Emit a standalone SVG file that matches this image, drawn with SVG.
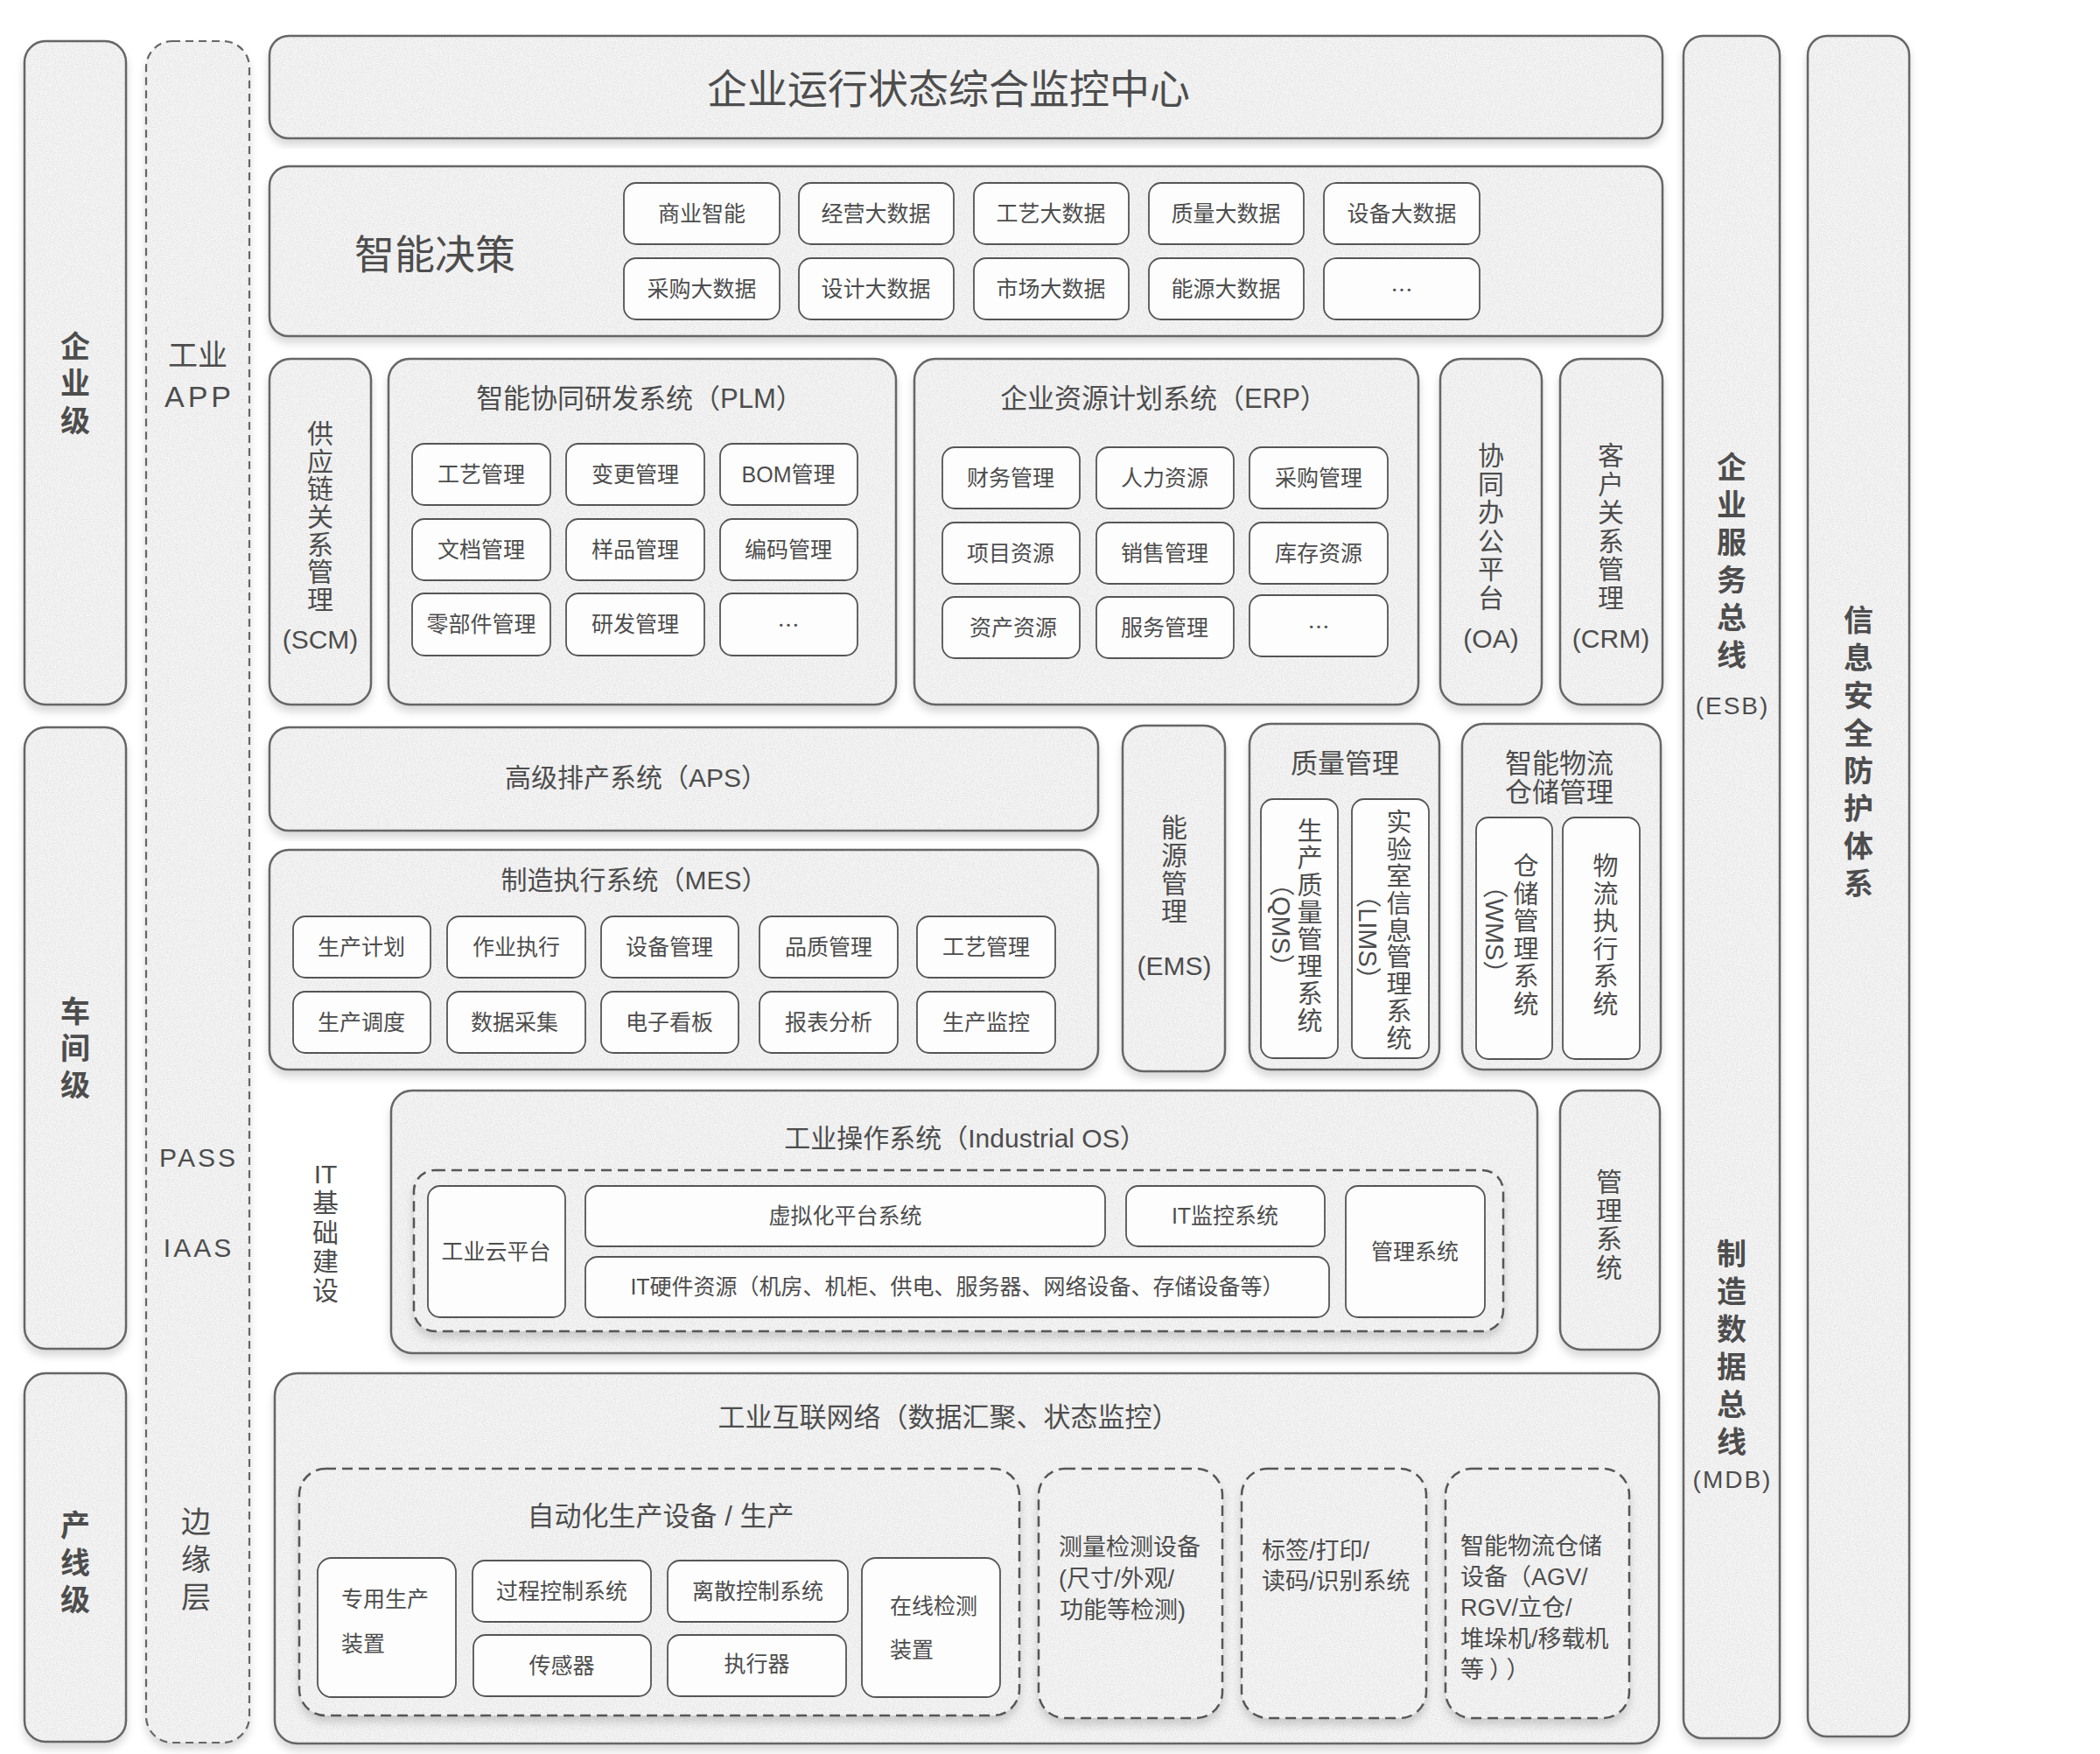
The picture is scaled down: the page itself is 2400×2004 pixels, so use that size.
<svg xmlns="http://www.w3.org/2000/svg" width="2400" height="2004" viewBox="0 0 2400 2004">
<defs>
<filter id="sh" x="-10%" y="-5%" width="120%" height="115%" color-interpolation-filters="sRGB">
<feGaussianBlur in="SourceAlpha" stdDeviation="5"/>
<feOffset dy="7" result="b"/>
<feFlood flood-color="#000" flood-opacity="0.15"/>
<feComposite in2="b" operator="in" result="s"/>
<feTurbulence type="fractalNoise" baseFrequency="0.9" numOctaves="2" seed="7" result="n"/>
<feColorMatrix in="n" type="matrix" values="0 0 0 0 0.4  0 0 0 0 0.4  0 0 0 0 0.4  0 0 0 0.28 -0.09" result="g"/>
<feComposite in="g" in2="SourceAlpha" operator="in" result="gc"/>
<feMerge><feMergeNode in="s"/><feMergeNode in="SourceGraphic"/><feMergeNode in="gc"/></feMerge>
</filter>
<style>
text,tspan{font-family:"Liberation Sans","Noto Sans CJK SC",sans-serif;fill:#4d4d4d;dominant-baseline:central}
.c{text-anchor:middle}
.box{fill:#f7f7f7;stroke:#666;stroke-width:2.5;filter:url(#sh)}
.dbox{fill:#f7f7f7;stroke:#555;stroke-width:2.5;stroke-dasharray:12 7;filter:url(#sh)}
.dcol{fill:#f7f7f7;stroke:#666;stroke-width:2.2;stroke-dasharray:9 6;filter:url(#sh)}
.sub{fill:#fdfdfd;stroke:#555;stroke-width:1.8}
.f46{font-size:46px}
.f34{font-size:34px}
.f31{font-size:31px}
.f30{font-size:30px}
.f29{font-size:29px}
.f27{font-size:27px}
.f25{font-size:25px}
.b{font-size:34px;font-weight:bold}
.lat{font-size:28px;letter-spacing:2px}
.dots{font-family:"Noto Sans CJK SC",sans-serif;font-size:25px}
</style>
</defs>
<rect width="2400" height="2004" fill="#fff"/>

<g id="connectors"/>

<g id="lvl-enterprise"><rect class="box" x="28" y="47" width="116" height="758" rx="24"/>
<text class="c b"><tspan x="86" y="396">企</tspan><tspan x="86" y="438">业</tspan><tspan x="86" y="481">级</tspan></text></g>
<g id="lvl-workshop"><rect class="box" x="28" y="831" width="116" height="710" rx="24"/>
<text class="c b"><tspan x="86" y="1156">车</tspan><tspan x="86" y="1198">间</tspan><tspan x="86" y="1240">级</tspan></text></g>
<g id="lvl-line"><rect class="box" x="28" y="1569" width="116" height="421" rx="24"/>
<text class="c b"><tspan x="86" y="1743">产</tspan><tspan x="86" y="1786">线</tspan><tspan x="86" y="1828">级</tspan></text></g>

<g id="app-column"><rect class="dcol" x="167" y="47" width="118" height="1944" rx="30"/>
<text class="c f34" x="226" y="406">工业</text>
<text class="c f34" x="228" y="453" style="letter-spacing:4px">APP</text>
<text class="c f30" x="227" y="1322" style="letter-spacing:3px">PASS</text>
<text class="c f30" x="227" y="1425" style="letter-spacing:3px">IAAS</text>
<text class="c f34"><tspan x="224" y="1739">边</tspan><tspan x="224" y="1782">缘</tspan><tspan x="224" y="1825">层</tspan></text></g>

<g id="monitor-center"><rect class="box" x="308" y="41" width="1592" height="117" rx="22"/>
<text class="c f46" x="1084" y="102">企业运行状态综合监控中心</text></g>

<g id="smart-decision"><rect class="box" x="308" y="190" width="1592" height="194" rx="22"/>
<text class="c f46" x="497" y="291">智能决策</text>
<rect class="sub" x="713" y="209" width="178" height="70" rx="14"/><text class="c f25" x="802" y="244">商业智能</text>
<rect class="sub" x="913" y="209" width="177" height="70" rx="14"/><text class="c f25" x="1001" y="244">经营大数据</text>
<rect class="sub" x="1113" y="209" width="177" height="70" rx="14"/><text class="c f25" x="1201" y="244">工艺大数据</text>
<rect class="sub" x="1313" y="209" width="177" height="70" rx="14"/><text class="c f25" x="1401" y="244">质量大数据</text>
<rect class="sub" x="1513" y="209" width="178" height="70" rx="14"/><text class="c f25" x="1602" y="244">设备大数据</text>
<rect class="sub" x="713" y="295" width="178" height="70" rx="14"/><text class="c f25" x="802" y="330">采购大数据</text>
<rect class="sub" x="913" y="295" width="177" height="70" rx="14"/><text class="c f25" x="1001" y="330">设计大数据</text>
<rect class="sub" x="1113" y="295" width="177" height="70" rx="14"/><text class="c f25" x="1201" y="330">市场大数据</text>
<rect class="sub" x="1313" y="295" width="177" height="70" rx="14"/><text class="c f25" x="1401" y="330">能源大数据</text>
<rect class="sub" x="1513" y="295" width="178" height="70" rx="14"/><text class="c dots" x="1602" y="330">…</text></g>

<g id="scm"><rect class="box" x="308" y="410" width="116" height="395" rx="24"/>
<text class="c f30"><tspan x="366" y="495">供</tspan><tspan x="366" y="527">应</tspan><tspan x="366" y="558">链</tspan><tspan x="366" y="590">关</tspan><tspan x="366" y="622">系</tspan><tspan x="366" y="653">管</tspan><tspan x="366" y="685">理</tspan><tspan x="366" y="730">(SCM)</tspan></text></g>

<g id="plm"><rect class="box" x="444" y="410" width="580" height="395" rx="24"/>
<text class="c f31" x="731" y="455">智能协同研发系统（PLM）</text>
<rect class="sub" x="471" y="507" width="158" height="70" rx="14"/><text class="c f25" x="550" y="542">工艺管理</text>
<rect class="sub" x="647" y="507" width="158" height="70" rx="14"/><text class="c f25" x="726" y="542">变更管理</text>
<rect class="sub" x="823" y="507" width="157" height="70" rx="14"/><text class="c f25" x="901" y="542">BOM管理</text>
<rect class="sub" x="471" y="593" width="158" height="70" rx="14"/><text class="c f25" x="550" y="628">文档管理</text>
<rect class="sub" x="647" y="593" width="158" height="70" rx="14"/><text class="c f25" x="726" y="628">样品管理</text>
<rect class="sub" x="823" y="593" width="157" height="70" rx="14"/><text class="c f25" x="901" y="628">编码管理</text>
<rect class="sub" x="471" y="678" width="158" height="71" rx="14"/><text class="c f25" x="550" y="713">零部件管理</text>
<rect class="sub" x="647" y="678" width="158" height="71" rx="14"/><text class="c f25" x="726" y="713">研发管理</text>
<rect class="sub" x="823" y="678" width="157" height="71" rx="14"/><text class="c dots" x="901" y="713">…</text></g>

<g id="erp"><rect class="box" x="1045" y="410" width="576" height="395" rx="24"/>
<text class="c f31" x="1330" y="455">企业资源计划系统（ERP）</text>
<rect class="sub" x="1077" y="511" width="157" height="70" rx="14"/><text class="c f25" x="1155" y="546">财务管理</text>
<rect class="sub" x="1253" y="511" width="157" height="70" rx="14"/><text class="c f25" x="1331" y="546">人力资源</text>
<rect class="sub" x="1428" y="511" width="158" height="70" rx="14"/><text class="c f25" x="1507" y="546">采购管理</text>
<rect class="sub" x="1077" y="597" width="157" height="70" rx="14"/><text class="c f25" x="1155" y="632">项目资源</text>
<rect class="sub" x="1253" y="597" width="157" height="70" rx="14"/><text class="c f25" x="1331" y="632">销售管理</text>
<rect class="sub" x="1428" y="597" width="158" height="70" rx="14"/><text class="c f25" x="1507" y="632">库存资源</text>
<rect class="sub" x="1077" y="682" width="157" height="70" rx="14"/><text class="c f25" x="1158" y="717">资产资源</text>
<rect class="sub" x="1253" y="682" width="157" height="70" rx="14"/><text class="c f25" x="1331" y="717">服务管理</text>
<rect class="sub" x="1428" y="680" width="158" height="70" rx="14"/><text class="c dots" x="1507" y="715">…</text></g>

<g id="oa"><rect class="box" x="1646" y="410" width="116" height="395" rx="24"/>
<text class="c f30"><tspan x="1704" y="520">协</tspan><tspan x="1704" y="553">同</tspan><tspan x="1704" y="585">办</tspan><tspan x="1704" y="618">公</tspan><tspan x="1704" y="650">平</tspan><tspan x="1704" y="683">台</tspan><tspan x="1704" y="729">(OA)</tspan></text></g>

<g id="crm"><rect class="box" x="1783" y="410" width="117" height="395" rx="24"/>
<text class="c f30"><tspan x="1841" y="520">客</tspan><tspan x="1841" y="553">户</tspan><tspan x="1841" y="585">关</tspan><tspan x="1841" y="618">系</tspan><tspan x="1841" y="650">管</tspan><tspan x="1841" y="683">理</tspan><tspan x="1841" y="729">(CRM)</tspan></text></g>

<g id="aps"><rect class="box" x="308" y="831" width="947" height="118" rx="22"/>
<text class="c f30" x="727" y="888">高级排产系统（APS）</text></g>

<g id="mes"><rect class="box" x="308" y="971" width="947" height="251" rx="22"/>
<text class="c f30" x="725" y="1005">制造执行系统（MES）</text>
<rect class="sub" x="335" y="1047" width="157" height="70" rx="14"/><text class="c f25" x="413" y="1082">生产计划</text>
<rect class="sub" x="511" y="1047" width="158" height="70" rx="14"/><text class="c f25" x="590" y="1082">作业执行</text>
<rect class="sub" x="687" y="1047" width="157" height="70" rx="14"/><text class="c f25" x="765" y="1082">设备管理</text>
<rect class="sub" x="868" y="1047" width="158" height="70" rx="14"/><text class="c f25" x="947" y="1082">品质管理</text>
<rect class="sub" x="1048" y="1047" width="158" height="70" rx="14"/><text class="c f25" x="1127" y="1082">工艺管理</text>
<rect class="sub" x="335" y="1133" width="157" height="70" rx="14"/><text class="c f25" x="413" y="1168">生产调度</text>
<rect class="sub" x="511" y="1133" width="158" height="70" rx="14"/><text class="c f25" x="588" y="1168">数据采集</text>
<rect class="sub" x="687" y="1133" width="157" height="70" rx="14"/><text class="c f25" x="765" y="1168">电子看板</text>
<rect class="sub" x="868" y="1133" width="158" height="70" rx="14"/><text class="c f25" x="947" y="1168">报表分析</text>
<rect class="sub" x="1048" y="1133" width="158" height="70" rx="14"/><text class="c f25" x="1127" y="1168">生产监控</text></g>

<g id="ems"><rect class="box" x="1283" y="829" width="117" height="395" rx="24"/>
<text class="c f30"><tspan x="1342" y="945">能</tspan><tspan x="1342" y="977">源</tspan><tspan x="1342" y="1009">管</tspan><tspan x="1342" y="1041">理</tspan><tspan x="1342" y="1103">(EMS)</tspan></text></g>

<g id="quality"><rect class="box" x="1428" y="827" width="217" height="395" rx="24"/>
<text class="c f31" x="1537" y="872">质量管理</text>
<rect class="sub" x="1441" y="913" width="88" height="296" rx="14"/>
<text class="c f29"><tspan x="1497" y="950">生</tspan><tspan x="1497" y="981">产</tspan><tspan x="1497" y="1012">质</tspan><tspan x="1497" y="1043">量</tspan><tspan x="1497" y="1074">管</tspan><tspan x="1497" y="1105">理</tspan><tspan x="1497" y="1136">系</tspan><tspan x="1497" y="1167">统</tspan></text>
<text class="c f29" transform="translate(1464 1057) rotate(90)" x="0" y="0">（QMS）</text>
<rect class="sub" x="1545" y="913" width="88" height="296" rx="14"/>
<text class="c f29"><tspan x="1599" y="940">实</tspan><tspan x="1599" y="971">验</tspan><tspan x="1599" y="1002">室</tspan><tspan x="1599" y="1033">信</tspan><tspan x="1599" y="1064">息</tspan><tspan x="1599" y="1094">管</tspan><tspan x="1599" y="1125">理</tspan><tspan x="1599" y="1156">系</tspan><tspan x="1599" y="1187">统</tspan></text>
<text class="c f29" transform="translate(1563 1071) rotate(90)" x="0" y="0">（LIMS）</text></g>

<g id="logistics"><rect class="box" x="1671" y="827" width="227" height="395" rx="24"/>
<text class="c f31" x="1782" y="872">智能物流</text>
<text class="c f31" x="1782" y="905">仓储管理</text>
<rect class="sub" x="1687" y="934" width="87" height="276" rx="14"/>
<text class="c f29"><tspan x="1744" y="990">仓</tspan><tspan x="1744" y="1022">储</tspan><tspan x="1744" y="1053">管</tspan><tspan x="1744" y="1085">理</tspan><tspan x="1744" y="1116">系</tspan><tspan x="1744" y="1148">统</tspan></text>
<text class="c f29" transform="translate(1708 1062) rotate(90)" x="0" y="0">（WMS）</text>
<rect class="sub" x="1786" y="934" width="88" height="276" rx="14"/>
<text class="c f29"><tspan x="1835" y="990">物</tspan><tspan x="1835" y="1022">流</tspan><tspan x="1835" y="1053">执</tspan><tspan x="1835" y="1085">行</tspan><tspan x="1835" y="1116">系</tspan><tspan x="1835" y="1148">统</tspan></text></g>

<g id="it-infra-label">
<text class="c f30"><tspan x="372" y="1341">IT</tspan><tspan x="372" y="1374">基</tspan><tspan x="372" y="1408">础</tspan><tspan x="372" y="1441">建</tspan><tspan x="372" y="1474">设</tspan></text></g>

<g id="industrial-os"><rect class="box" x="447" y="1246" width="1310" height="300" rx="24"/>
<text class="c f30" x="1103" y="1300">工业操作系统（Industrial OS）</text>
<rect class="dbox" x="473" y="1337" width="1245" height="184" rx="24"/>
<rect class="sub" x="489" y="1355" width="157" height="150" rx="14"/><text class="c f25" x="567" y="1430">工业云平台</text>
<rect class="sub" x="669" y="1355" width="594" height="69" rx="14"/><text class="c f25" x="966" y="1389">虚拟化平台系统</text>
<rect class="sub" x="1287" y="1355" width="227" height="69" rx="14"/><text class="c f25" x="1400" y="1389">IT监控系统</text>
<rect class="sub" x="669" y="1436" width="850" height="69" rx="14"/><text class="c f25" x="1094" y="1470">IT硬件资源（机房、机柜、供电、服务器、网络设备、存储设备等）</text>
<rect class="sub" x="1538" y="1355" width="159" height="150" rx="14"/><text class="c f25" x="1617" y="1430">管理系统</text></g>

<g id="mgmt-system"><rect class="box" x="1783" y="1246" width="114" height="296" rx="24"/>
<text class="c f30"><tspan x="1839" y="1350">管</tspan><tspan x="1839" y="1383">理</tspan><tspan x="1839" y="1415">系</tspan><tspan x="1839" y="1448">统</tspan></text></g>

<g id="industrial-network"><rect class="box" x="314" y="1569" width="1582" height="423" rx="26"/>
<text class="c f31" x="1084" y="1619">工业互联网络（数据汇聚、状态监控）</text></g>

<g id="automation"><rect class="dbox" x="342" y="1678" width="823" height="282" rx="30"/>
<text class="c f31" x="755" y="1732">自动化生产设备 / 生产</text>
<rect class="sub" x="363" y="1780" width="158" height="159" rx="16"/><text class="f25" x="390" y="1827">专用生产</text><text class="f25" x="390" y="1878">装置</text>
<rect class="sub" x="540" y="1783" width="204" height="70" rx="14"/><text class="c f25" x="642" y="1818">过程控制系统</text>
<rect class="sub" x="763" y="1783" width="206" height="70" rx="14"/><text class="c f25" x="866" y="1818">离散控制系统</text>
<rect class="sub" x="541" y="1868" width="203" height="70" rx="14"/><text class="c f25" x="642" y="1903">传感器</text>
<rect class="sub" x="763" y="1868" width="204" height="70" rx="14"/><text class="c f25" x="865" y="1901">执行器</text>
<rect class="sub" x="985" y="1780" width="158" height="159" rx="16"/><text class="f25" x="1017" y="1835">在线检测</text><text class="f25" x="1017" y="1885">装置</text></g>

<g id="measurement"><rect class="dbox" x="1187" y="1678" width="210" height="285" rx="30"/>
<text class="f27" x="1210" y="1768">测量检测设备</text>
<text class="f27" x="1210" y="1804">(尺寸/外观/</text>
<text class="f27" x="1211" y="1840">功能等检测)</text></g>

<g id="labeling"><rect class="dbox" x="1419" y="1678" width="211" height="285" rx="30"/>
<text class="f27" x="1442" y="1772">标签/打印/</text>
<text class="f27" x="1442" y="1807">读码/识别系统</text></g>

<g id="logistics-equip"><rect class="dbox" x="1652" y="1678" width="210" height="285" rx="30"/>
<text class="f27" x="1669" y="1767">智能物流仓储</text>
<text class="f27" x="1669" y="1802">设备（AGV/</text>
<text class="f27" x="1669" y="1837">RGV/立仓/</text>
<text class="f27" x="1669" y="1873">堆垛机/移载机</text>
<text class="f27" x="1669" y="1908" style="letter-spacing:6px">等））</text></g>

<g id="esb-mdb"><rect class="box" x="1924" y="41" width="110" height="1945" rx="22"/>
<text class="c b"><tspan x="1979" y="534">企</tspan><tspan x="1979" y="577">业</tspan><tspan x="1979" y="620">服</tspan><tspan x="1979" y="663">务</tspan><tspan x="1979" y="706">总</tspan><tspan x="1979" y="749">线</tspan></text>
<text class="c lat" x="1980" y="806">(ESB)</text>
<text class="c b"><tspan x="1979" y="1433">制</tspan><tspan x="1979" y="1476">造</tspan><tspan x="1979" y="1519">数</tspan><tspan x="1979" y="1562">据</tspan><tspan x="1979" y="1605">总</tspan><tspan x="1979" y="1648">线</tspan></text>
<text class="c lat" x="1980" y="1690">(MDB)</text></g>

<g id="security"><rect class="box" x="2066" y="41" width="116" height="1943" rx="22"/>
<text class="c b"><tspan x="2124" y="709">信</tspan><tspan x="2124" y="752">息</tspan><tspan x="2124" y="795">安</tspan><tspan x="2124" y="838">全</tspan><tspan x="2124" y="881">防</tspan><tspan x="2124" y="924">护</tspan><tspan x="2124" y="967">体</tspan><tspan x="2124" y="1010">系</tspan></text></g>
</svg>
